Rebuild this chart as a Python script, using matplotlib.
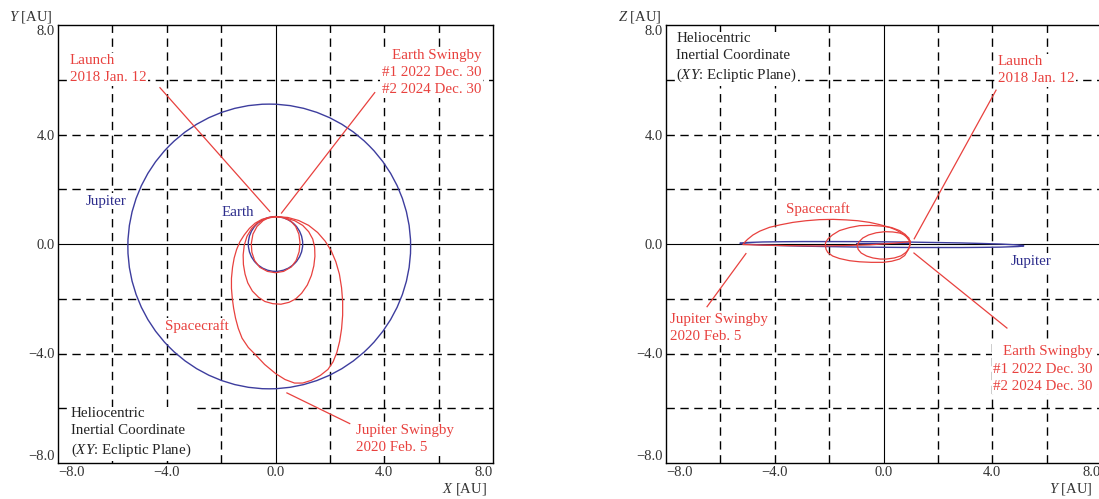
import matplotlib
matplotlib.use("Agg")
import matplotlib.pyplot as plt
from matplotlib.patches import Ellipse

plt.rcParams['font.family'] = ['Liberation Serif', 'DejaVu Serif']
plt.rcParams['mathtext.fontset'] = 'custom'
plt.rcParams['mathtext.rm'] = 'Liberation Serif'
plt.rcParams['mathtext.it'] = 'Liberation Serif:italic'

RED = '#e8413e'
BLUE = '#2d2d8c'
ORBIT_BLUE = '#3d3d9e'

# axis ticks / grid
tick_vals = [-8, -4, 0, 4, 8]
tick_labels = ['\u22128.0', '\u22124.0', '0.0', '4.0', '8.0']
grid_vals = [-6, -4, -2, 2, 4, 6]

# planet orbits (centre, width, height, angle)
earth_xy = (0.0, 0.0, 2.0, 2.0, 0.0)
jupiter_xy = (-0.23, -0.09, 10.4, 10.4, 0.0)
earth_yz = (0.0, 0.0, 2.0, 0.0, 0.0)
jupiter_yz = (-0.06, -0.02, 10.45, 0.2, -0.5)

# spacecraft, XY plane (left)
sc_xy_big_x = [0.0, -0.25, -0.5, -0.75, -0.96, -1.15, -1.31, -1.43, -1.52, -1.58, -1.62, -1.62, -1.59,
               -1.54, -1.47, -1.37, -1.23, -1.0, -0.76, -0.4, 0.0, 0.35, 0.7, 1.0, 1.32, 1.65, 1.93,
               2.12, 2.26, 2.36, 2.43, 2.47, 2.47, 2.43, 2.35, 2.22, 2.05, 1.83, 1.55, 1.22, 0.85, 0.45, 0.0]
sc_xy_big_y = [1.0, 0.97, 0.9, 0.76, 0.57, 0.33, 0.08, -0.2, -0.51, -0.85, -1.25, -1.62, -1.98,
               -2.35, -2.71, -3.08, -3.44, -3.78, -4.02, -4.4, -4.73, -4.95, -5.08, -5.08, -4.98, -4.8, -4.58,
               -4.3, -3.95, -3.55, -3.1, -2.6, -2.1, -1.6, -1.1, -0.65, -0.25, 0.1, 0.42, 0.68, 0.86, 0.97, 1.0]
sc_xy_mid_x = [0.0, 0.35, 0.71, 1.0, 1.22, 1.37, 1.44, 1.45, 1.41, 1.32, 1.17, 0.96, 0.75, 0.5, 0.2,
               -0.1, -0.39, -0.62, -0.85, -1.02, -1.12, -1.18, -1.19, -1.15, -1.05, -0.88, -0.65, -0.35, 0.0]
sc_xy_mid_y = [1.0, 0.96, 0.85, 0.68, 0.45, 0.18, -0.12, -0.45, -0.8, -1.15, -1.5, -1.8, -2.0, -2.13, -2.2,
               -2.18, -2.1, -1.95, -1.72, -1.42, -1.1, -0.75, -0.4, -0.05, 0.28, 0.56, 0.78, 0.93, 1.0]
sc_xy_small_x = [0.0, 0.3, 0.56, 0.74, 0.86, 0.9, 0.87, 0.76, 0.58, 0.3, 0.0, -0.3, -0.58, -0.77, -0.87,
                 -0.89, -0.83, -0.68, -0.45, -0.22, 0.0]
sc_xy_small_y = [1.0, 0.96, 0.84, 0.64, 0.36, 0.05, -0.28, -0.6, -0.84, -1.0, -1.05, -1.0, -0.85, -0.6, -0.3,
                 0.02, 0.36, 0.64, 0.86, 0.97, 1.0]

# spacecraft, YZ plane (right)
sc_yz_big_y = [0.98, 0.85, 0.71, 0.45, 0.22, -0.15, -0.51, -0.95, -1.37, -1.85, -2.35, -2.85, -3.33, -3.8,
               -4.19, -4.55, -4.8, -5.0, -5.12, -5.17, -4.5, -3.5, -2.5, -1.5, -0.5, 0.4, 0.98]
sc_yz_big_z = [0.09, 0.25, 0.37, 0.52, 0.61, 0.71, 0.79, 0.85, 0.88, 0.9, 0.89, 0.85, 0.79, 0.7,
               0.61, 0.47, 0.33, 0.17, 0.05, -0.02, -0.04, -0.06, -0.07, -0.06, -0.03, 0.03, 0.09]
sc_yz_mid_y = [0.98, 0.8, 0.59, 0.3, -0.02, -0.45, -0.88, -1.25, -1.62, -1.88, -2.05, -2.13, -2.14, -2.11,
               -2.05, -1.87, -1.62, -1.25, -0.88, -0.45, -0.02, 0.3, 0.59, 0.78, 0.89, 0.96, 0.98]
sc_yz_mid_z = [0.09, 0.35, 0.49, 0.6, 0.65, 0.68, 0.67, 0.6, 0.49, 0.33, 0.18, 0.05, -0.06, -0.2,
               -0.31, -0.44, -0.53, -0.61, -0.65, -0.67, -0.67, -0.63, -0.55, -0.42, -0.24, -0.07, 0.09]
sc_yz_small_y = [0.98, 0.93, 0.83, 0.6, 0.34, 0.05, -0.27, -0.55, -0.76, -0.9, -0.97, -0.93, -0.82, -0.62,
                 -0.39, -0.12, 0.1, 0.4, 0.65, 0.82, 0.93, 0.98, 0.98]
sc_yz_small_z = [0.09, 0.22, 0.31, 0.4, 0.44, 0.45, 0.41, 0.33, 0.22, 0.08, -0.06, -0.2, -0.33, -0.44,
                 -0.51, -0.55, -0.55, -0.51, -0.43, -0.31, -0.18, -0.02, 0.09]

FS = 10.8


def setup_axes(ax):
    ax.set_xlim(-8, 8)
    ax.set_ylim(-8, 8)
    for v in grid_vals:
        ax.axhline(v, color='black', lw=1.0, dashes=(6, 4), zorder=1)
        ax.axvline(v, color='black', lw=1.0, dashes=(6, 4), zorder=1)
    ax.axhline(0, color='black', lw=0.8, zorder=1)
    ax.axvline(0, color='black', lw=0.8, zorder=1)
    ax.set_xticks(tick_vals)
    ax.set_yticks(tick_vals)
    ax.set_xticklabels(tick_labels)
    ax.set_yticklabels(tick_labels)
    ax.tick_params(length=0, labelsize=10.5, labelcolor='#333333', pad=2)
    xl = ax.get_xticklabels()
    xl[0].set_ha('left')
    xl[-1].set_ha('right')
    yl = ax.get_yticklabels()
    yl[0].set_va('bottom')
    yl[-1].set_va('top')
    for s in ax.spines.values():
        s.set_linewidth(1.0)


def orbit(ax, o, zorder=2):
    cx, cy, w, h, ang = o
    ax.add_patch(Ellipse((cx, cy), w, h, angle=ang, fill=False, edgecolor=ORBIT_BLUE, lw=1.0, zorder=zorder))


def label(ax, x, y, s, color, ha='left'):
    ax.text(x, y, s, color=color, fontsize=FS, ha=ha, va='center', multialignment=ha,
            linespacing=1.42, zorder=6, bbox=dict(facecolor='white', edgecolor='none', pad=1))


def pointer(ax, x0, y0, x1, y1):
    ax.plot([x0, x1], [y0, y1], color=RED, lw=0.9, zorder=4)


fig = plt.figure(figsize=(10.99, 4.99), dpi=100)
ax1 = fig.add_axes([58 / 1099, 36 / 499, 435 / 1099, 438 / 499])
ax2 = fig.add_axes([666 / 1099, 36 / 499, 435 / 1099, 438 / 499])

# left: XY plane
setup_axes(ax1)
orbit(ax1, jupiter_xy)
orbit(ax1, earth_xy)
for xs, ys in [(sc_xy_big_x, sc_xy_big_y), (sc_xy_mid_x, sc_xy_mid_y), (sc_xy_small_x, sc_xy_small_y)]:
    ax1.plot(xs, ys, color=RED, lw=0.9, zorder=3)
pointer(ax1, -4.25, 5.71, -0.21, 1.19)
pointer(ax1, 3.65, 5.53, 0.22, 1.13)
pointer(ax1, 0.42, -5.44, 2.73, -6.56)
label(ax1, -7.56, 6.39, 'Launch\n2018 Jan. 12', RED)
label(ax1, 7.57, 6.26, 'Earth Swingby\n#1 2022 Dec. 30\n#2 2024 Dec. 30', RED, ha='right')
label(ax1, 2.95, -7.13, 'Jupiter Swingby\n2020 Feb. 5', RED)
label(ax1, -4.07, -2.99, 'Spacecraft', RED)
label(ax1, -6.97, 1.56, 'Jupiter', BLUE)
label(ax1, -1.99, 1.16, 'Earth', BLUE)
label(ax1, -7.53, -6.9, 'Heliocentric\nInertial Coordinate\n($XY$: Ecliptic Plane)', '#222222')

# right: YZ plane
setup_axes(ax2)
orbit(ax2, jupiter_yz)
orbit(ax2, earth_yz, zorder=0.5)
for xs, ys in [(sc_yz_big_y, sc_yz_big_z), (sc_yz_mid_y, sc_yz_mid_z), (sc_yz_small_y, sc_yz_small_z)]:
    ax2.plot(xs, ys, color=RED, lw=0.9, zorder=3)
pointer(ax2, 4.14, 5.62, 1.13, 0.19)
pointer(ax2, -6.49, -2.29, -5.06, -0.35)
pointer(ax2, 4.54, -3.07, 1.12, -0.33)
label(ax2, -7.63, 6.8, 'Heliocentric\nInertial Coordinate\n($XY$: Ecliptic Plane)', '#222222')
label(ax2, 4.2, 6.35, 'Launch\n2018 Jan. 12', RED)
label(ax2, -3.58, 1.29, 'Spacecraft', RED)
label(ax2, 4.69, -0.63, 'Jupiter', BLUE)
label(ax2, -7.84, -3.08, 'Jupiter Swingby\n2020 Feb. 5', RED)
label(ax2, 7.69, -4.57, 'Earth Swingby\n#1 2022 Dec. 30\n#2 2024 Dec. 30', RED, ha='right')

# axis names
fig.text(53 / 1099, 1 - 16.7 / 499, '$Y$ [AU]', ha='right', va='center', fontsize=10.5, color='#333333')
fig.text(487 / 1099, 1 - 489 / 499, '$X$ [AU]', ha='right', va='center', fontsize=10.5, color='#333333')
fig.text(662 / 1099, 1 - 16.7 / 499, '$Z$ [AU]', ha='right', va='center', fontsize=10.5, color='#333333')
fig.text(1093 / 1099, 1 - 489 / 499, '$Y$ [AU]', ha='right', va='center', fontsize=10.5, color='#333333')

fig.savefig('out.png', dpi=100)
